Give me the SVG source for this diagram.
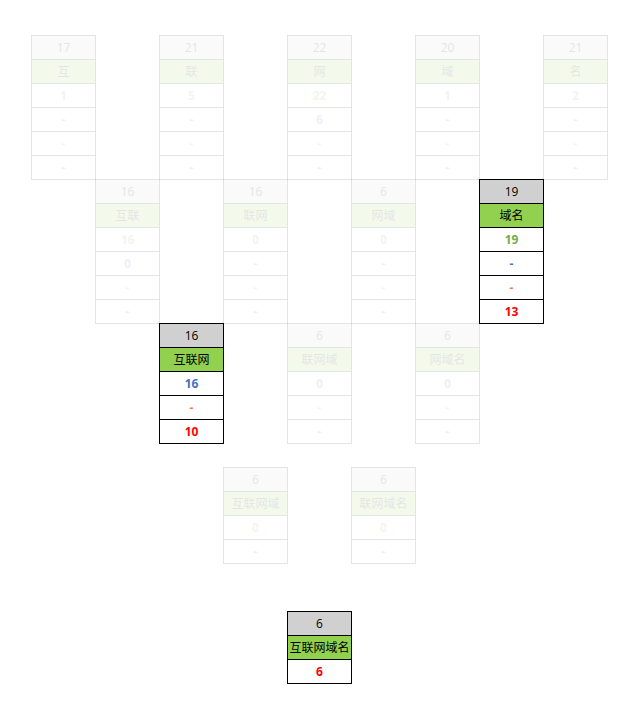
<svg xmlns="http://www.w3.org/2000/svg" width="640" height="720" viewBox="0 0 640 720">
<style>
rect{stroke:#000;stroke-width:1}
rect.bg{stroke:none;fill:#fff}
.h{fill:#d0d0d0}
.c{fill:#92d050}
.w{fill:#fff}
text{font-family:"Open Sans","Noto Sans CJK SC",sans-serif;font-size:12px;text-anchor:middle;dominant-baseline:central;fill:#000}
.v{font-weight:bold}
.g{fill:#70ad47}
.b{fill:#4472c4}
.o{fill:#ed7d31}
.r{fill:#ff0000}
.f{opacity:0.1}
</style>
<rect class="bg" x="0" y="0" width="640" height="720"/>
<g id="level1">
<g id="n-hu" class="f" transform="translate(31.5,35.5)">
<rect class="h" width="64" height="24"/><rect class="c" y="24" width="64" height="24"/><rect class="w" y="48" width="64" height="24"/><rect class="w" y="72" width="64" height="24"/><rect class="w" y="96" width="64" height="24"/><rect class="w" y="120" width="64" height="24"/>
<text x="32" y="12">17</text><text x="32" y="36">互</text><text class="v g" x="32" y="60">1</text><text class="v b" x="32" y="84">-</text><text class="v o" x="32" y="108">-</text><text class="v r" x="32" y="132">-</text>
</g>
<g id="n-lian" class="f" transform="translate(159.5,35.5)">
<rect class="h" width="64" height="24"/><rect class="c" y="24" width="64" height="24"/><rect class="w" y="48" width="64" height="24"/><rect class="w" y="72" width="64" height="24"/><rect class="w" y="96" width="64" height="24"/><rect class="w" y="120" width="64" height="24"/>
<text x="32" y="12">21</text><text x="32" y="36">联</text><text class="v g" x="32" y="60">5</text><text class="v b" x="32" y="84">-</text><text class="v o" x="32" y="108">-</text><text class="v r" x="32" y="132">-</text>
</g>
<g id="n-wang" class="f" transform="translate(287.5,35.5)">
<rect class="h" width="64" height="24"/><rect class="c" y="24" width="64" height="24"/><rect class="w" y="48" width="64" height="24"/><rect class="w" y="72" width="64" height="24"/><rect class="w" y="96" width="64" height="24"/><rect class="w" y="120" width="64" height="24"/>
<text x="32" y="12">22</text><text x="32" y="36">网</text><text class="v g" x="32" y="60">22</text><text class="v b" x="32" y="84">6</text><text class="v o" x="32" y="108">-</text><text class="v r" x="32" y="132">-</text>
</g>
<g id="n-yu" class="f" transform="translate(415.5,35.5)">
<rect class="h" width="64" height="24"/><rect class="c" y="24" width="64" height="24"/><rect class="w" y="48" width="64" height="24"/><rect class="w" y="72" width="64" height="24"/><rect class="w" y="96" width="64" height="24"/><rect class="w" y="120" width="64" height="24"/>
<text x="32" y="12">20</text><text x="32" y="36">域</text><text class="v g" x="32" y="60">1</text><text class="v b" x="32" y="84">-</text><text class="v o" x="32" y="108">-</text><text class="v r" x="32" y="132">-</text>
</g>
<g id="n-ming" class="f" transform="translate(543.5,35.5)">
<rect class="h" width="64" height="24"/><rect class="c" y="24" width="64" height="24"/><rect class="w" y="48" width="64" height="24"/><rect class="w" y="72" width="64" height="24"/><rect class="w" y="96" width="64" height="24"/><rect class="w" y="120" width="64" height="24"/>
<text x="32" y="12">21</text><text x="32" y="36">名</text><text class="v g" x="32" y="60">2</text><text class="v b" x="32" y="84">-</text><text class="v o" x="32" y="108">-</text><text class="v r" x="32" y="132">-</text>
</g>
</g>
<g id="level2">
<g id="n-hulian" class="f" transform="translate(95.5,179.5)">
<rect class="h" width="64" height="24"/><rect class="c" y="24" width="64" height="24"/><rect class="w" y="48" width="64" height="24"/><rect class="w" y="72" width="64" height="24"/><rect class="w" y="96" width="64" height="24"/><rect class="w" y="120" width="64" height="24"/>
<text x="32" y="12">16</text><text x="32" y="36">互联</text><text class="v g" x="32" y="60">16</text><text class="v b" x="32" y="84">0</text><text class="v o" x="32" y="108">-</text><text class="v r" x="32" y="132">-</text>
</g>
<g id="n-lianwang" class="f" transform="translate(223.5,179.5)">
<rect class="h" width="64" height="24"/><rect class="c" y="24" width="64" height="24"/><rect class="w" y="48" width="64" height="24"/><rect class="w" y="72" width="64" height="24"/><rect class="w" y="96" width="64" height="24"/><rect class="w" y="120" width="64" height="24"/>
<text x="32" y="12">16</text><text x="32" y="36">联网</text><text class="v g" x="32" y="60">0</text><text class="v b" x="32" y="84">-</text><text class="v o" x="32" y="108">-</text><text class="v r" x="32" y="132">-</text>
</g>
<g id="n-wangyu" class="f" transform="translate(351.5,179.5)">
<rect class="h" width="64" height="24"/><rect class="c" y="24" width="64" height="24"/><rect class="w" y="48" width="64" height="24"/><rect class="w" y="72" width="64" height="24"/><rect class="w" y="96" width="64" height="24"/><rect class="w" y="120" width="64" height="24"/>
<text x="32" y="12">6</text><text x="32" y="36">网域</text><text class="v g" x="32" y="60">0</text><text class="v b" x="32" y="84">-</text><text class="v o" x="32" y="108">-</text><text class="v r" x="32" y="132">-</text>
</g>
<g id="n-yuming" transform="translate(479.5,179.5)">
<rect class="h" width="64" height="24"/><rect class="c" y="24" width="64" height="24"/><rect class="w" y="48" width="64" height="24"/><rect class="w" y="72" width="64" height="24"/><rect class="w" y="96" width="64" height="24"/><rect class="w" y="120" width="64" height="24"/>
<text x="32" y="12">19</text><text x="32" y="36">域名</text><text class="v g" x="32" y="60">19</text><text class="v b" x="32" y="84">-</text><text class="v o" x="32" y="108">-</text><text class="v r" x="32" y="132">13</text>
</g>
</g>
<g id="level3">
<g id="n-hulianwang" transform="translate(159.5,323.5)">
<rect class="h" width="64" height="24"/><rect class="c" y="24" width="64" height="24"/><rect class="w" y="48" width="64" height="24"/><rect class="w" y="72" width="64" height="24"/><rect class="w" y="96" width="64" height="24"/>
<text x="32" y="12">16</text><text x="32" y="36">互联网</text><text class="v b" x="32" y="60">16</text><text class="v o" x="32" y="84">-</text><text class="v r" x="32" y="108">10</text>
</g>
<g id="n-lianwangyu" class="f" transform="translate(287.5,323.5)">
<rect class="h" width="64" height="24"/><rect class="c" y="24" width="64" height="24"/><rect class="w" y="48" width="64" height="24"/><rect class="w" y="72" width="64" height="24"/><rect class="w" y="96" width="64" height="24"/>
<text x="32" y="12">6</text><text x="32" y="36">联网域</text><text class="v b" x="32" y="60">0</text><text class="v o" x="32" y="84">-</text><text class="v r" x="32" y="108">-</text>
</g>
<g id="n-wangyuming" class="f" transform="translate(415.5,323.5)">
<rect class="h" width="64" height="24"/><rect class="c" y="24" width="64" height="24"/><rect class="w" y="48" width="64" height="24"/><rect class="w" y="72" width="64" height="24"/><rect class="w" y="96" width="64" height="24"/>
<text x="32" y="12">6</text><text x="32" y="36">网域名</text><text class="v b" x="32" y="60">0</text><text class="v o" x="32" y="84">-</text><text class="v r" x="32" y="108">-</text>
</g>
</g>
<g id="level4">
<g id="n-hulianwangyu" class="f" transform="translate(223.5,467.5)">
<rect class="h" width="64" height="24"/><rect class="c" y="24" width="64" height="24"/><rect class="w" y="48" width="64" height="24"/><rect class="w" y="72" width="64" height="24"/>
<text x="32" y="12">6</text><text x="32" y="36">互联网域</text><text class="v o" x="32" y="60">0</text><text class="v r" x="32" y="84">-</text>
</g>
<g id="n-lianwangyuming" class="f" transform="translate(351.5,467.5)">
<rect class="h" width="64" height="24"/><rect class="c" y="24" width="64" height="24"/><rect class="w" y="48" width="64" height="24"/><rect class="w" y="72" width="64" height="24"/>
<text x="32" y="12">6</text><text x="32" y="36">联网域名</text><text class="v o" x="32" y="60">0</text><text class="v r" x="32" y="84">-</text>
</g>
</g>
<g id="level5">
<g id="n-hulianwangyuming" transform="translate(287.5,611.5)">
<rect class="h" width="64" height="24"/><rect class="c" y="24" width="64" height="24"/><rect class="w" y="48" width="64" height="24"/>
<text x="32" y="12">6</text><text x="32" y="36">互联网域名</text><text class="v r" x="32" y="60">6</text>
</g>
</g>
</svg>
